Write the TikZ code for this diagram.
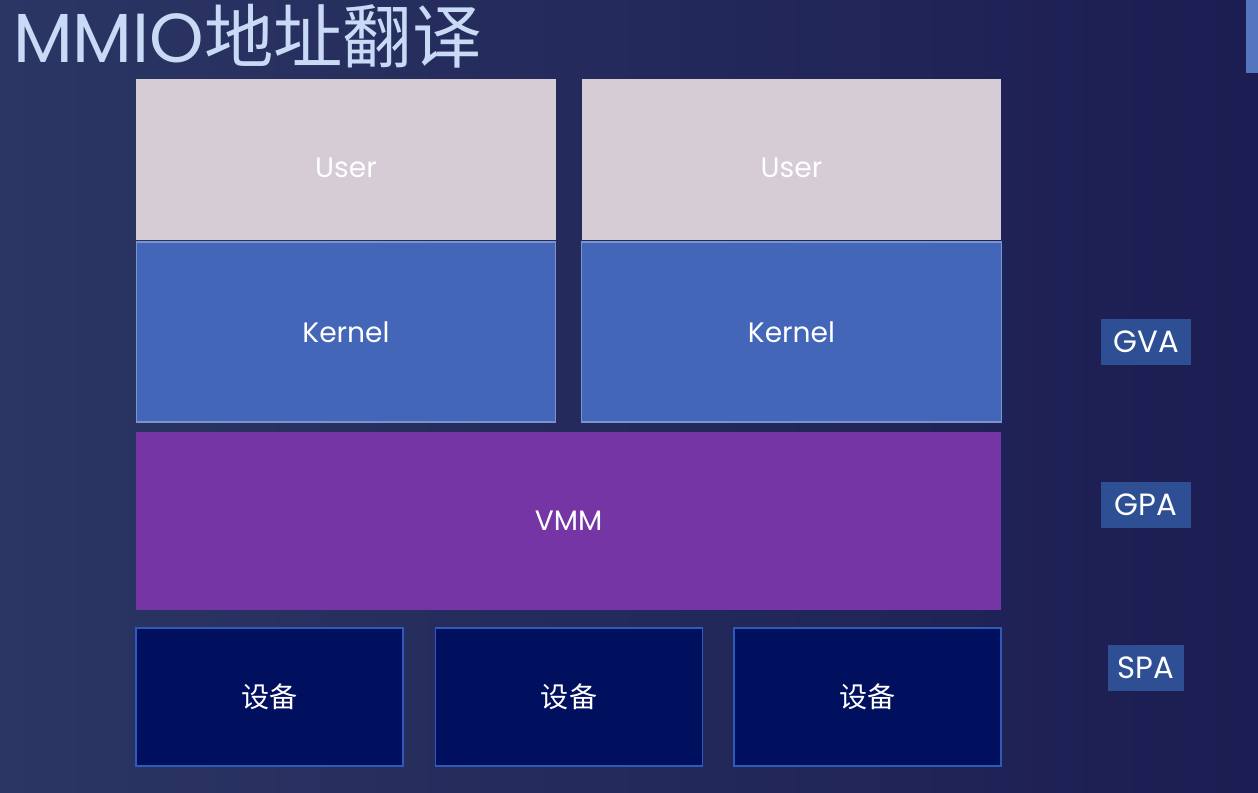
\documentclass[tikz,border=0pt]{standalone}
\usepackage{fontspec}
\setmainfont{Poppins}
\newfontfamily\cjk{Noto Sans CJK SC}
\usepackage{tikz}
\usetikzlibrary{positioning}

\definecolor{bgleft}{HTML}{2B3664}
\definecolor{bgright}{HTML}{1C1D52}
\definecolor{usercol}{HTML}{D5CCD6}
\definecolor{kernelcol}{HTML}{4366B8}
\definecolor{vmmcol}{HTML}{7535A5}
\definecolor{devcol}{HTML}{00105E}
\definecolor{devline}{HTML}{2F5BB8}
\definecolor{tagcol}{HTML}{2E4F94}
\definecolor{titlecol}{HTML}{C8DAF5}

\begin{document}
\begin{tikzpicture}[x=0.02cm,y=-0.02cm,
    every node/.style={inner sep=0pt,outer sep=0pt,text=white,font=\fontsize{16}{19}\selectfont},
    userbox/.style={fill=usercol,minimum width=8.4cm,minimum height=3.22cm,text height=0.72cm,text depth=0pt},
    kernelbox/.style={fill=kernelcol,draw=kernelcol!70!white,line width=0.6pt,minimum width=8.4cm,minimum height=3.6cm},
    devbox/.style={fill=devcol,draw=devline,line width=0.8pt,minimum width=5.34cm,minimum height=2.76cm,font=\cjk\fontsize{16}{19}\selectfont},
    tagbox/.style={fill=tagcol,minimum height=0.92cm,font=\fontsize{17.5}{20}\selectfont}]
    % background
    \shade[left color=bgleft,right color=bgright] (0,0) rectangle (1258,792);
    \fill[kernelcol!90!white] (1246,0) rectangle (1258,73);

    \node[anchor=west,text=titlecol,font=\fontsize{39.5}{44}\selectfont] (title) at (13,36) {MMIO{\cjk 地址翻译}};

    \node[userbox] (user1) at (346,159.5) {User};
    \node[userbox] (user2) at (791.5,159.5) {User};
    \node[kernelbox] (kernel1) at (346,332) {Kernel};
    \node[kernelbox] (kernel2) at (791.5,332) {Kernel};
    \node[fill=vmmcol,minimum width=17.3cm,minimum height=3.56cm] (vmm) at (568.5,521) {VMM};

    \node[devbox] (dev1) at (269.5,697) {设备};
    \node[devbox] (dev2) at (569,697) {设备};
    \node[devbox] (dev3) at (867.5,697) {设备};

    \node[tagbox,minimum width=1.8cm] (gva) at (1146,342) {GVA};
    \node[tagbox,minimum width=1.8cm] (gpa) at (1146,505) {GPA};
    \node[tagbox,minimum width=1.52cm] (spa) at (1146,668) {SPA};
\end{tikzpicture}
\end{document}
